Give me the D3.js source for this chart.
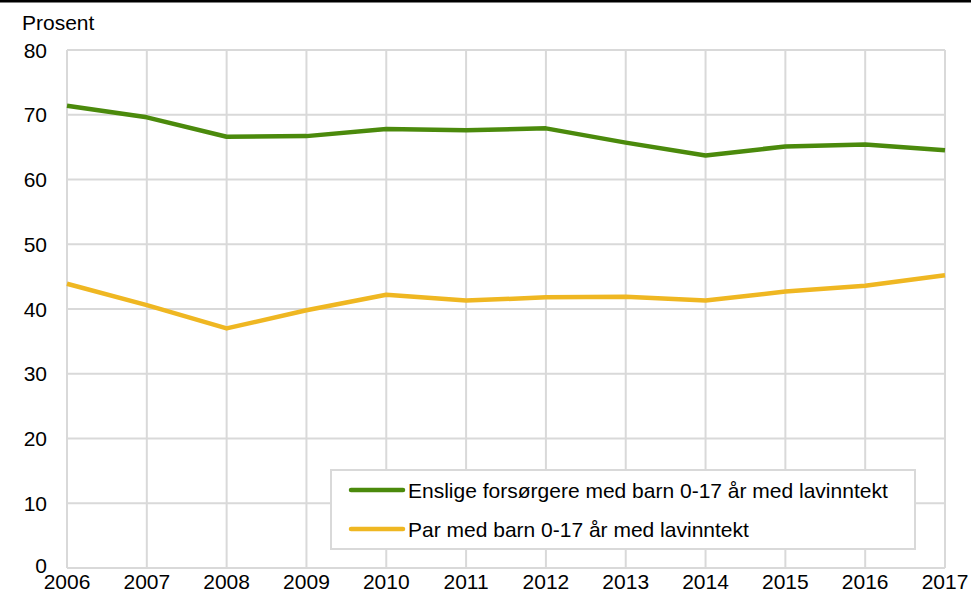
<!DOCTYPE html>
<html>
<head>
<meta charset="utf-8">
<script src="https://cdn.jsdelivr.net/npm/d3@7"></script>
<style>
  body { margin: 0; background: #fff; }
  svg { font-family: "Liberation Sans", Arial, sans-serif; }
</style>
</head>
<body>
<div id="chart"></div>
<script>
// Data
const years = [2006, 2007, 2008, 2009, 2010, 2011, 2012, 2013, 2014, 2015, 2016, 2017];
const enslige = [71.4, 69.6, 66.6, 66.7, 67.8, 67.6, 67.9, 65.7, 63.7, 65.1, 65.4, 64.5];
const par = [43.9, 40.6, 37.0, 39.8, 42.2, 41.3, 41.8, 41.9, 41.3, 42.7, 43.6, 45.2];
const yTicks = [0, 10, 20, 30, 40, 50, 60, 70, 80];
const seriesNames = ["Enslige forsørgere med barn 0-17 år med lavinntekt", "Par med barn 0-17 år med lavinntekt"];
const colors = ["#4b8a0c", "#efb722"];

const W = 971, H = 593;
const margin = { top: 50, right: 26, bottom: 25, left: 67 };
const width = W - margin.left - margin.right;
const height = H - margin.top - margin.bottom;
const fs = 21;

const svg = d3.select("#chart").append("svg")
    .attr("width", W)
    .attr("height", H);

// top rule
svg.append("rect").attr("x", 0).attr("y", 0).attr("width", W).attr("height", 2.5).attr("fill", "#000");

const g = svg.append("g").attr("transform", `translate(${margin.left},${margin.top})`);

const x = d3.scaleLinear().domain([2006, 2017]).range([0, width]);
const y = d3.scaleLinear().domain([0, 80]).range([height, 0]);

// grid
g.selectAll(".hgrid").data(yTicks).enter().append("line")
    .attr("x1", 0).attr("x2", width)
    .attr("y1", d => y(d)).attr("y2", d => y(d))
    .attr("stroke", "#d9d9d9").attr("stroke-width", 2);
g.selectAll(".vgrid").data(years).enter().append("line")
    .attr("y1", 0).attr("y2", height)
    .attr("x1", d => x(d)).attr("x2", d => x(d))
    .attr("stroke", "#d9d9d9").attr("stroke-width", 2);

// axes labels
g.selectAll(".ylab").data(yTicks).enter().append("text")
    .attr("x", -20).attr("y", d => y(d) + (d === 0 ? 5 : 7.5))
    .attr("text-anchor", "end").attr("font-size", fs).attr("fill", "#000")
    .text(d => d);
g.selectAll(".xlab").data(years).enter().append("text")
    .attr("x", d => x(d)).attr("y", height + 20.5)
    .attr("text-anchor", "middle").attr("font-size", fs).attr("fill", "#000")
    .text(d => d);

svg.append("text").attr("x", 22).attr("y", 30).attr("font-size", fs).text("Prosent");

// lines
const line = d3.line().x((d, i) => x(years[i])).y(d => y(d));
[enslige, par].forEach((s, k) => {
  g.append("path").datum(s)
    .attr("d", line)
    .attr("fill", "none")
    .attr("stroke", colors[k])
    .attr("stroke-width", 4.5)
    .attr("stroke-linejoin", "round");
});

// legend
const lg = svg.append("g");
lg.append("rect").attr("x", 331).attr("y", 470).attr("width", 584).attr("height", 79)
  .attr("fill", "#fff").attr("stroke", "#d9d9d9").attr("stroke-width", 2);
seriesNames.forEach((n, k) => {
  const yy = 490 + k * 39;
  lg.append("line").attr("x1", 351).attr("x2", 403).attr("y1", yy).attr("y2", yy)
    .attr("stroke", colors[k]).attr("stroke-width", 4.5).attr("stroke-linecap", "round");
  lg.append("text").attr("x", 408).attr("y", yy + 7.5).attr("font-size", fs).text(n);
});
</script>
</body>
</html>
